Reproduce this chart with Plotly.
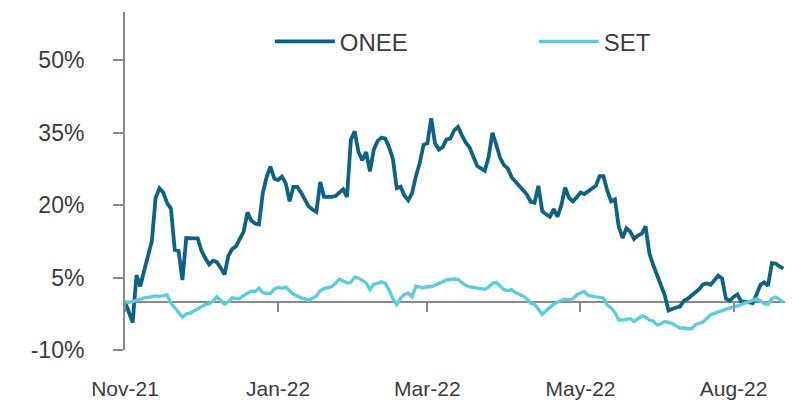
import plotly.graph_objects as go

# daily returns since start (%), one value per trading day
onee = [
    0.0, -2.0, -4.3, 5.5, 3.2, 6.4, 9.5, 12.5, 21.5, 23.5,
    22.6, 20.4, 19.3, 10.7, 10.5, 4.5, 13.2, 13.1, 13.1, 13.1,
    10.5, 9.0, 7.7, 8.5, 8.2, 7.0, 5.6, 9.5, 10.9, 11.5,
    13.0, 14.5, 18.5, 16.8, 16.2, 16.0, 22.5, 25.8, 28.0, 25.5,
    25.2, 25.9, 24.5, 20.8, 23.8, 23.8, 22.6, 21.2, 19.7, 19.1,
    18.6, 24.8, 21.7, 21.7, 21.7, 21.9, 22.6, 23.3, 21.7, 33.5,
    35.3, 31.0, 29.3, 31.0, 27.0, 31.5, 33.3, 34.0, 33.8, 32.0,
    29.5, 23.5, 23.8, 22.0, 21.0, 22.5, 26.0, 28.7, 32.5, 32.8,
    38.0, 32.8, 31.5, 32.0, 33.6, 33.8, 35.5, 36.2, 34.5, 33.0,
    32.0, 30.0, 28.1, 27.6, 27.1, 30.0, 35.0, 32.5, 29.8, 28.3,
    27.6, 25.8, 24.9, 23.9, 22.9, 22.2, 20.7, 20.5, 24.0, 18.8,
    18.1, 17.6, 19.2, 17.6, 20.0, 23.6, 21.5, 20.8, 21.6, 22.6,
    22.3, 22.8, 23.3, 24.0, 26.0, 26.0, 23.0, 20.8, 21.2, 15.5,
    13.2, 15.2, 14.5, 13.0, 13.7, 14.1, 15.6, 10.0, 7.6, 5.5,
    3.0, 1.4, -1.8, -1.4, -1.2, -1.0, 0.2, 0.6, 1.3, 1.8,
    2.6, 3.6, 3.8, 3.5, 4.5, 5.4, 4.8, 0.6, 0.2, 1.0,
    1.5, 0.0, 0.0, -0.2, -0.3, 1.5, 3.5, 4.0, 3.3, 8.0,
    7.9, 7.3, 6.9,
]

set_index = [
    0.0, -0.1, 0.0, 0.3, 0.6, 0.8, 0.9, 1.1, 1.2, 1.1,
    1.2, 1.4, -0.3, -1.3, -2.3, -3.2, -2.5, -2.4, -1.9, -1.4,
    -0.9, -0.6, -0.4, 0.1, 1.0, 0.3, -0.5, 0.0, 0.8, 0.7,
    0.7, 1.3, 1.8, 2.2, 2.1, 2.8, 1.9, 1.7, 1.7, 2.6,
    3.0, 2.8, 3.0, 2.2, 1.6, 1.2, 0.8, 0.6, 0.3, 0.7,
    1.2, 2.3, 2.7, 2.9, 3.1, 3.8, 4.7, 4.3, 3.9, 4.0,
    5.1, 4.9, 4.4, 3.9, 2.5, 3.6, 3.8, 4.1, 3.8, 2.4,
    0.6, -0.6, 0.7, 1.5, 1.8, 1.0, 3.2, 3.0, 2.9, 3.1,
    3.1, 3.4, 3.8, 4.2, 4.5, 4.6, 4.7, 4.6, 3.9, 3.4,
    3.1, 2.9, 2.8, 2.7, 2.6, 3.0, 3.8, 4.0, 3.2, 2.5,
    2.3, 2.5, 1.9, 1.5, 1.2, 0.6, -0.3, -0.5, -1.5, -2.6,
    -1.9, -1.2, -0.5, -0.1, 0.3, 0.5, 0.4, 0.6, 1.4, 1.8,
    2.1, 1.3, 1.1, 1.0, 0.9, 0.7, -0.7, -1.3, -2.2, -3.8,
    -3.8, -3.6, -3.5, -4.1, -3.5, -3.0, -3.2, -3.8, -4.0, -4.8,
    -4.6, -4.1, -4.3, -4.5, -5.0, -5.5, -5.4, -5.6, -5.6, -4.8,
    -4.5, -4.2, -3.5, -2.7, -2.4, -2.1, -1.9, -1.6, -1.3, -1.1,
    -0.9, -0.6, -0.3, 0.0, 0.4, 0.6, 0.2, -0.4, -0.5, 0.6,
    1.0, 0.5, -0.1,
]

tick_days = [0, 40, 79, 119, 159]
tick_labels = ["Nov-21", "Jan-22", "Mar-22", "May-22", "Aug-22"]
y_ticks = [-10, 5, 20, 35, 50]
y_tick_labels = ["-10%", "5%", "20%", "35%", "50%"]

ONEE_COLOR = "#0e6384"
SET_COLOR = "#5ecdd9"
AXIS_GRAY = "#8a8a8a"
TEXT = "#3c3c3c"
FONT = "Liberation Sans, Arial, sans-serif"

Y_MIN, Y_MAX = -10, 60
X_MAX = 174

days = list(range(len(onee)))

fig = go.Figure()
fig.add_trace(go.Scatter(
    x=days, y=onee, mode="lines", name="ONEE",
    line=dict(color=ONEE_COLOR, width=3.8),
))
fig.add_trace(go.Scatter(
    x=days, y=set_index, mode="lines", name="SET",
    line=dict(color=SET_COLOR, width=3.4),
))
# invisible trace so the zero-line tick axis gets drawn
fig.add_trace(go.Scatter(
    x=days, y=set_index, xaxis="x2", mode="lines",
    line=dict(color="rgba(0,0,0,0)", width=0),
    hoverinfo="skip", showlegend=False,
))

# the page body keeps its default 8px margin, so the figure is 8px smaller
fig.update_layout(
    width=785,
    height=394,
    margin=dict(l=117, r=2, t=4, b=51.5, autoexpand=False),
    paper_bgcolor="white",
    plot_bgcolor="white",
    font=dict(family=FONT, color=TEXT),
    showlegend=True,
    legend=dict(
        orientation="h",
        x=0.2175, xanchor="left",
        y=0.912, yanchor="middle",
        font=dict(size=24, color=TEXT),
        entrywidth=189, entrywidthmode="pixels",
        itemwidth=60,
        bgcolor="rgba(0,0,0,0)",
    ),
    xaxis=dict(
        range=[0, X_MAX],
        tickmode="array", tickvals=tick_days, ticktext=tick_labels,
        showline=False, showgrid=False, zeroline=False,
        ticks="", ticklabelstandoff=24,
        tickfont=dict(size=21, color=TEXT),
    ),
    xaxis2=dict(
        range=[0, X_MAX], overlaying="x", anchor="free",
        position=(0 - Y_MIN) / (Y_MAX - Y_MIN),
        tickmode="array", tickvals=tick_days,
        showticklabels=False, showline=False, showgrid=False, zeroline=False,
        ticks="outside", ticklen=9, tickwidth=2, tickcolor=AXIS_GRAY,
    ),
    yaxis=dict(
        range=[Y_MIN, Y_MAX],
        tickmode="array", tickvals=y_ticks, ticktext=y_tick_labels,
        showgrid=False,
        showline=True, linecolor=AXIS_GRAY, linewidth=2,
        zeroline=True, zerolinecolor=AXIS_GRAY, zerolinewidth=2,
        ticks="outside", ticklen=10, tickwidth=2, tickcolor=AXIS_GRAY,
        ticklabelstandoff=24,
        tickfont=dict(size=23, color=TEXT),
    ),
)

fig.write_html("out.html")
